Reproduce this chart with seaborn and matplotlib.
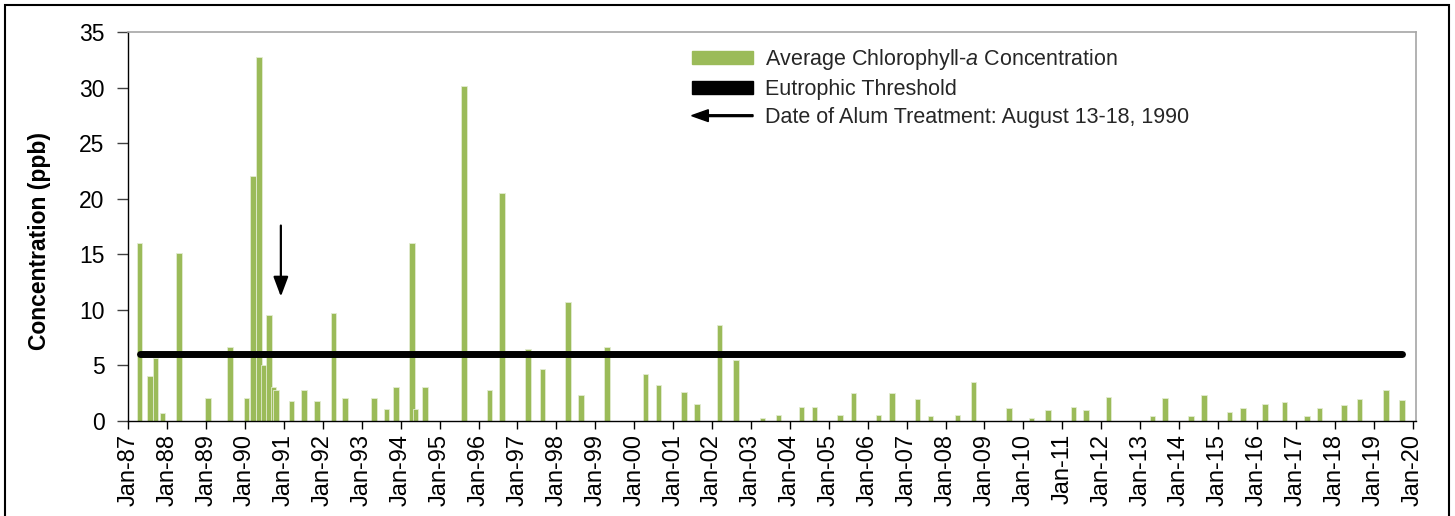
import matplotlib
matplotlib.use("Agg")
import matplotlib.pyplot as plt
import matplotlib.patches as mpatches
from matplotlib.legend_handler import HandlerPatch
import pandas as pd
import seaborn as sns

# ---------------- data ----------------
# sample dates as decimal years
sample_dates = [1987.29, 1987.56, 1987.70, 1987.88, 1988.30, 1989.05, 1989.61,
                1990.04, 1990.20, 1990.36, 1990.49, 1990.61, 1990.73, 1990.80,
                1991.19, 1991.52, 1991.85, 1992.27, 1992.56, 1993.31, 1993.63,
                1993.88, 1994.29, 1994.38, 1994.62, 1995.62, 1996.28, 1996.61,
                1997.27, 1997.64, 1998.30, 1998.63, 1999.30, 2000.29, 2000.62,
                2001.28, 2001.61, 2002.19, 2002.62, 2003.30, 2003.71, 2004.30,
                2004.63, 2005.29, 2005.63, 2006.28, 2006.62, 2007.28, 2007.61,
                2008.31, 2008.72, 2009.63, 2010.21, 2010.63, 2011.29, 2011.61,
                2012.19, 2013.32, 2013.64, 2014.31, 2014.64, 2015.30, 2015.64,
                2016.21, 2016.71, 2017.29, 2017.61, 2018.24, 2018.64, 2019.31,
                2019.72]
chlorophyll = [16.0, 4.05, 5.7, 0.7, 15.1, 2.1, 6.7,
               2.1, 22.05, 32.8, 5.0, 9.5, 3.1, 2.8,
               1.8, 2.8, 1.8, 9.75, 2.1, 2.1, 1.1,
               3.05, 16.05, 1.1, 3.05, 30.15, 2.8, 20.5,
               6.5, 4.7, 10.7, 2.35, 6.7, 4.2, 3.2,
               2.65, 1.55, 8.65, 5.45, 0.25, 0.55, 1.25,
               1.25, 0.55, 2.5, 0.55, 2.5, 1.95, 0.42,
               0.55, 3.5, 1.15, 0.27, 1.0, 1.25, 1.0,
               2.2, 0.42, 2.1, 0.42, 2.35, 0.85, 1.15,
               1.55, 1.7, 0.42, 1.15, 1.4, 1.95, 2.8,
               1.85]
eutrophic_threshold = 6.0
tick_years = list(range(1987, 2021))
tick_labels = [f"Jan-{y % 100:02d}" for y in tick_years]
alum_date = 1990.92          # arrow position (as drawn in the reference)
arrow_tail, arrow_tip = 17.6, 11.2

legend_labels = ["Average Chlorophyll-$\\mathit{a}$ Concentration",
                 "Eutrophic Threshold",
                 "Date of Alum Treatment: August 13-18, 1990"]

GREEN = "#9BBB59"

# ---------------- style ----------------
sns.set_theme(style="white")
plt.rcParams['font.family'] = ['Liberation Sans', 'DejaVu Sans']
plt.rcParams['mathtext.fontset'] = 'custom'
plt.rcParams['mathtext.rm'] = 'Liberation Sans'
plt.rcParams['mathtext.it'] = 'Liberation Sans:italic'

fig, ax = plt.subplots(figsize=(14.55, 5.16), dpi=100)
W, H = 1455, 516
fig.subplots_adjust(left=128.3 / W, right=1415.7 / W, bottom=1 - 421 / H, top=1 - 32.3 / H)

# bars
ax.bar(sample_dates, chlorophyll, width=0.145, color=GREEN,
       edgecolor="#e3ecd2", linewidth=0.6, zorder=2)

# threshold line (from first to last sample)
thr = pd.DataFrame({"x": [sample_dates[0], sample_dates[-1]],
                    "y": [eutrophic_threshold, eutrophic_threshold]})
sns.lineplot(data=thr, x="x", y="y", color="black", linewidth=5,
             solid_capstyle="round", ax=ax, zorder=3)

# alum treatment arrow
ax.annotate("", xy=(alum_date, arrow_tip), xytext=(alum_date, arrow_tail),
            arrowprops=dict(arrowstyle="-|>,head_length=1.2,head_width=0.45",
                            mutation_scale=10, color="black", lw=1.6,
                            shrinkA=0, shrinkB=0), zorder=4)

# axes
ax.set_xlim(1987.0, 2020.08)
ax.set_ylim(0, 35)
ax.set_xticks(tick_years)
ax.set_xticklabels(tick_labels, rotation=90)
ax.set_yticks(range(0, 36, 5))
ax.tick_params(axis="x", bottom=True, direction="out", length=6, width=1,
               color="black", labelsize=17, pad=3, labelcolor="black")
ax.tick_params(axis="y", left=True, direction="out", length=8, width=1,
               color="#404040", labelsize=16.5, pad=9, labelcolor="black")
ax.set_xlabel("")
ax.set_ylabel("Concentration (ppb)", fontsize=16.5, fontweight="bold", color="black")
ax.yaxis.set_label_coords(-0.0603, 0.463)

for side in ("top", "right"):
    ax.spines[side].set_color("#a6a6a6")
    ax.spines[side].set_linewidth(1.2)
for side in ("left", "bottom"):
    ax.spines[side].set_color("black")
    ax.spines[side].set_linewidth(1.0)


# legend
def make_arrow(legend, orig_handle, xdescent, ydescent, width, height, fontsize):
    x0 = -xdescent
    yc = -ydescent + height / 2
    return mpatches.FancyArrow(x0 + width, yc, -width, 0, width=1.3,
                               head_width=8.5, head_length=12,
                               length_includes_head=True)


h_green = mpatches.Patch(color=GREEN)
h_black = mpatches.Patch(color="black")
h_arrow = mpatches.Patch(color="black")
leg = ax.legend([h_green, h_black, h_arrow], legend_labels,
                handler_map={h_arrow: HandlerPatch(patch_func=make_arrow)},
                loc="upper left", bbox_to_anchor=(0.4376, 0.962),
                frameon=False, fontsize=15.5, borderpad=0, borderaxespad=0,
                handlelength=2.85, handleheight=0.55, handletextpad=0.55,
                labelspacing=0.33)

# outer border of the figure
fig.patches.append(mpatches.Rectangle((5 / W, -0.05), (1449 - 5) / W, 1.05 - 5 / H,
                                      transform=fig.transFigure, fill=False,
                                      edgecolor="black", linewidth=1.5))

fig.savefig("out.png", dpi=100)
